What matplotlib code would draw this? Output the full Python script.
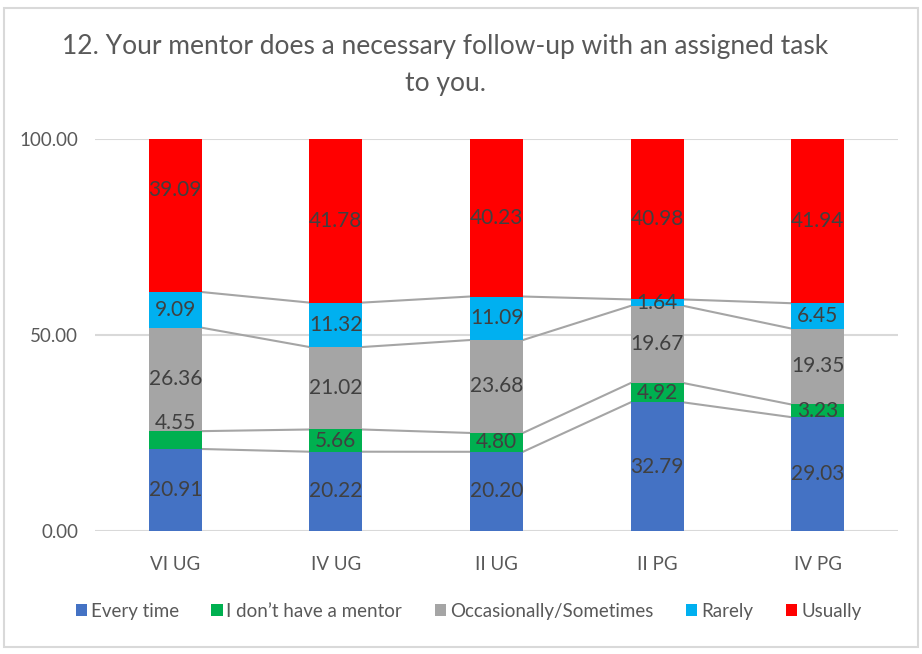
import numpy as np
import matplotlib.pyplot as plt
from matplotlib.patches import Rectangle

plt.rcParams['font.family'] = ['Lato', 'DejaVu Sans']

groups = ['VI UG', 'IV UG', 'II UG', 'II PG', 'IV PG']
series = ['Every time', 'I don\u2019t have a mentor', 'Occasionally/Sometimes', 'Rarely', 'Usually']
every_time = [20.91, 20.22, 20.20, 32.79, 29.03]
no_mentor = [4.55, 5.66, 4.80, 4.92, 3.23]
occasionally = [26.36, 21.02, 23.68, 19.67, 19.35]
rarely = [9.09, 11.32, 11.09, 1.64, 6.45]
usually = [39.09, 41.78, 40.23, 40.98, 41.94]
colors = ['#4472C4', '#00B050', '#A5A5A5', '#00B0F0', '#FF0000']

# Excel put a couple of labels off-centre; nudge (points)
label_nudge = {(0, 1): 12, (0, 4): 18}

values = np.array([every_time, no_mentor, occasionally, rarely, usually])
x = np.arange(len(groups))
w = 0.33

fig = plt.figure(figsize=(9.22, 6.54), dpi=100)
fig.patches.append(Rectangle((0.004, 0.01), 0.992, 0.978, transform=fig.transFigure,
                             fill=False, edgecolor='#D9D9D9', lw=1.5))
ax = fig.add_axes([0.103, 0.188, 0.871, 0.6])

bottom = np.zeros(len(groups))
for i, (name, vals) in enumerate(zip(series, values)):
    ax.bar(x, vals, w, bottom=bottom, color=colors[i], label=name, zorder=3)
    for j, v in enumerate(vals):
        ax.annotate(f'{v:.2f}', (x[j], bottom[j] + v / 2),
                    xytext=(0, label_nudge.get((j, i), 0)), textcoords='offset points',
                    ha='center', va='center', fontsize=15, color='#404040', zorder=5)
    bottom = bottom + vals
    # series lines between bars
    if i < len(series) - 1:
        for j in range(len(groups) - 1):
            ax.plot([x[j] + w / 2, x[j + 1] - w / 2], [bottom[j], bottom[j + 1]],
                    color='#A5A5A5', lw=1.5, zorder=2)

ax.set_xlim(-0.5, len(groups) - 0.5)
ax.set_ylim(0, 100)
ax.set_yticks([0, 50, 100])
ax.set_yticklabels(['0.00', '50.00', '100.00'])
ax.set_xticks(x)
ax.set_xticklabels(groups)
ax.yaxis.grid(True, color='#D9D9D9', lw=1.5, zorder=0)
ax.tick_params(length=0, labelsize=13.5, labelcolor='#595959', pad=12)
ax.tick_params(axis='x', pad=18)
for s in ax.spines.values():
    s.set_visible(False)

fig.text(0.483, 0.9, '12. Your mentor does a necessary follow-up with an assigned task\nto you.',
         ha='center', va='center', fontsize=19, color='#595959', linespacing=1.6)

ax.legend(loc='upper center', bbox_to_anchor=(0.465, -0.14), ncol=5, frameon=False,
          fontsize=13.5, handlelength=0.6, handleheight=0.6, handletextpad=0.2,
          columnspacing=1.75, labelcolor='#595959')

fig.savefig('out.png')
